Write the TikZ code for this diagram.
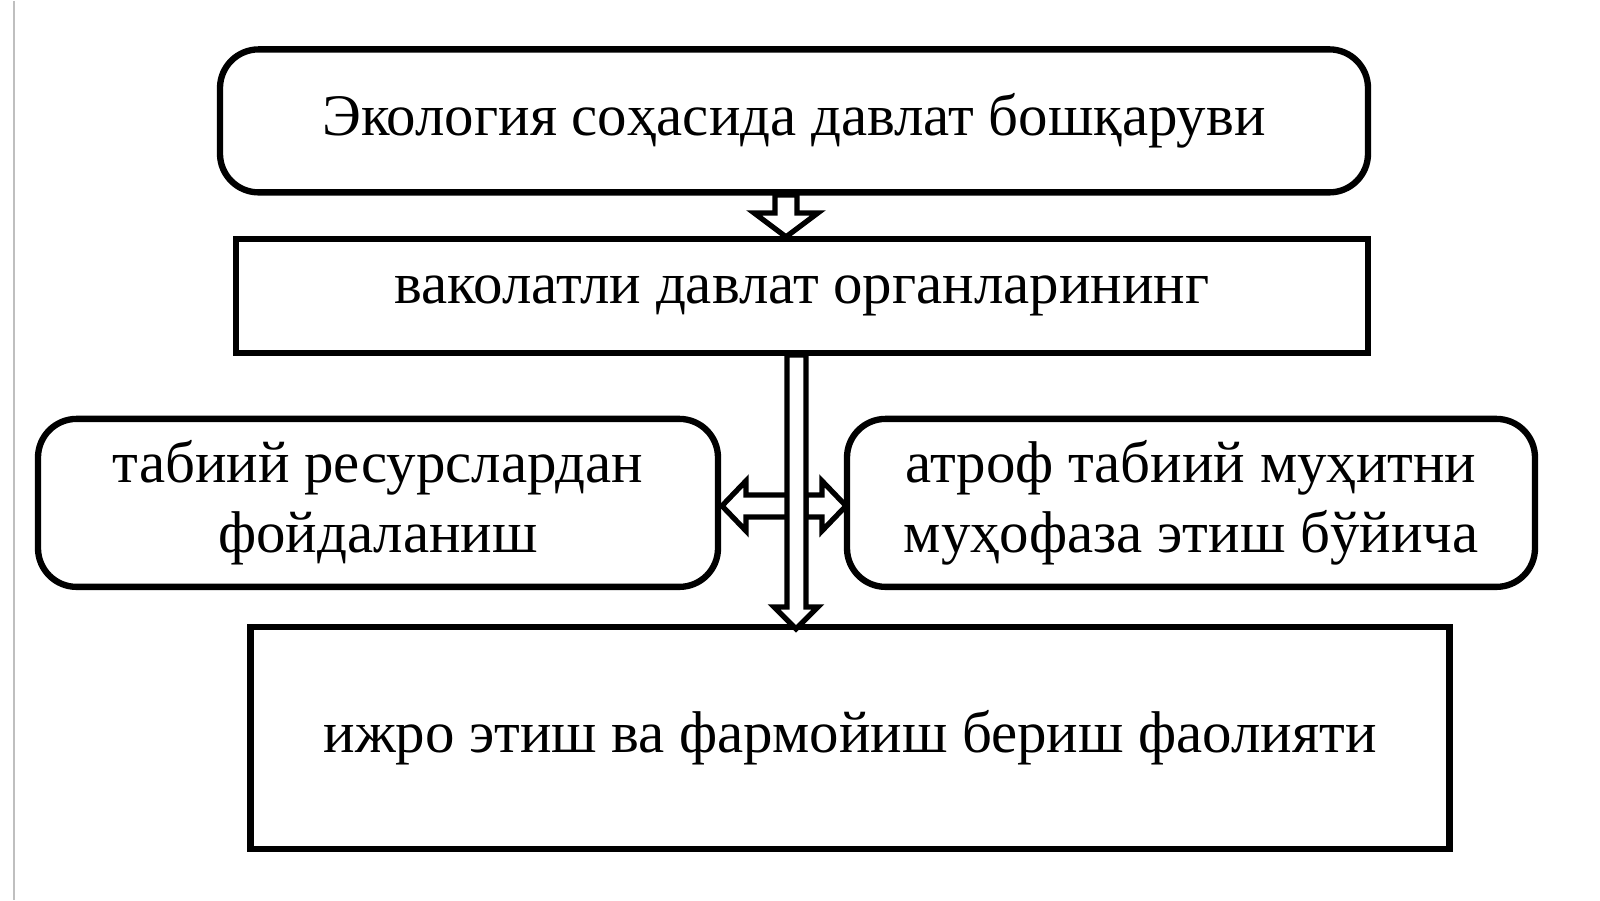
\documentclass[tikz,border=0pt]{standalone}
\usepackage{fontspec}
\setmainfont{Liberation Serif}
\begin{document}
\begin{tikzpicture}[x=0.02cm,y=-0.02cm,
    box/.style={draw,line width=3.6pt,inner sep=0pt,align=center,font=\fontsize{33.5}{40}\selectfont},
    rbox/.style={box,rounded corners=22pt},
    harrow/.style={draw,line width=3pt,fill=white,line join=miter}]
    % frame
    \fill[white] (0,0) rectangle (1600,899);
    \draw[gray!50,line width=1pt] (14,0) -- (14,899);

    % boxes
    \node[rbox,minimum width=1148*0.02cm,minimum height=143*0.02cm] (top) at (794,120) {Экология соҳасида давлат бошқаруви};
    \node[box,minimum width=1132*0.02cm,minimum height=114*0.02cm] (organ) at (802,295) {ваколатли давлат органларининг};
    \node[rbox,minimum width=680*0.02cm,minimum height=168*0.02cm] (left) at (378,502) {табиий ресурслардан\\фойдаланиш};
    \node[rbox,minimum width=688*0.02cm,minimum height=168*0.02cm] (right) at (1191,502) {атроф табиий муҳитни\\муҳофаза этиш бўйича};
    \node[box,minimum width=1199*0.02cm,minimum height=222*0.02cm] (bottom) at (850,737) {ижро этиш ва фармойиш бериш фаолияти};

    % hollow arrows
    \draw[harrow] (775,194) -- (797,194) -- (797,212) -- (818,212) -- (786,236) -- (754,212) -- (775,212) -- cycle;
    \draw[harrow] (788,494) -- (746,494) -- (746,480) -- (722,505) -- (746,530) -- (746,516) -- (788,516) -- cycle;
    \draw[harrow] (806,494) -- (822,494) -- (822,480) -- (846,505) -- (822,530) -- (822,516) -- (806,516) -- cycle;
    \draw[harrow] (787,354) -- (806,354) -- (806,606) -- (818,606) -- (796,628) -- (774,606) -- (787,606) -- cycle;
\end{tikzpicture}
\end{document}
